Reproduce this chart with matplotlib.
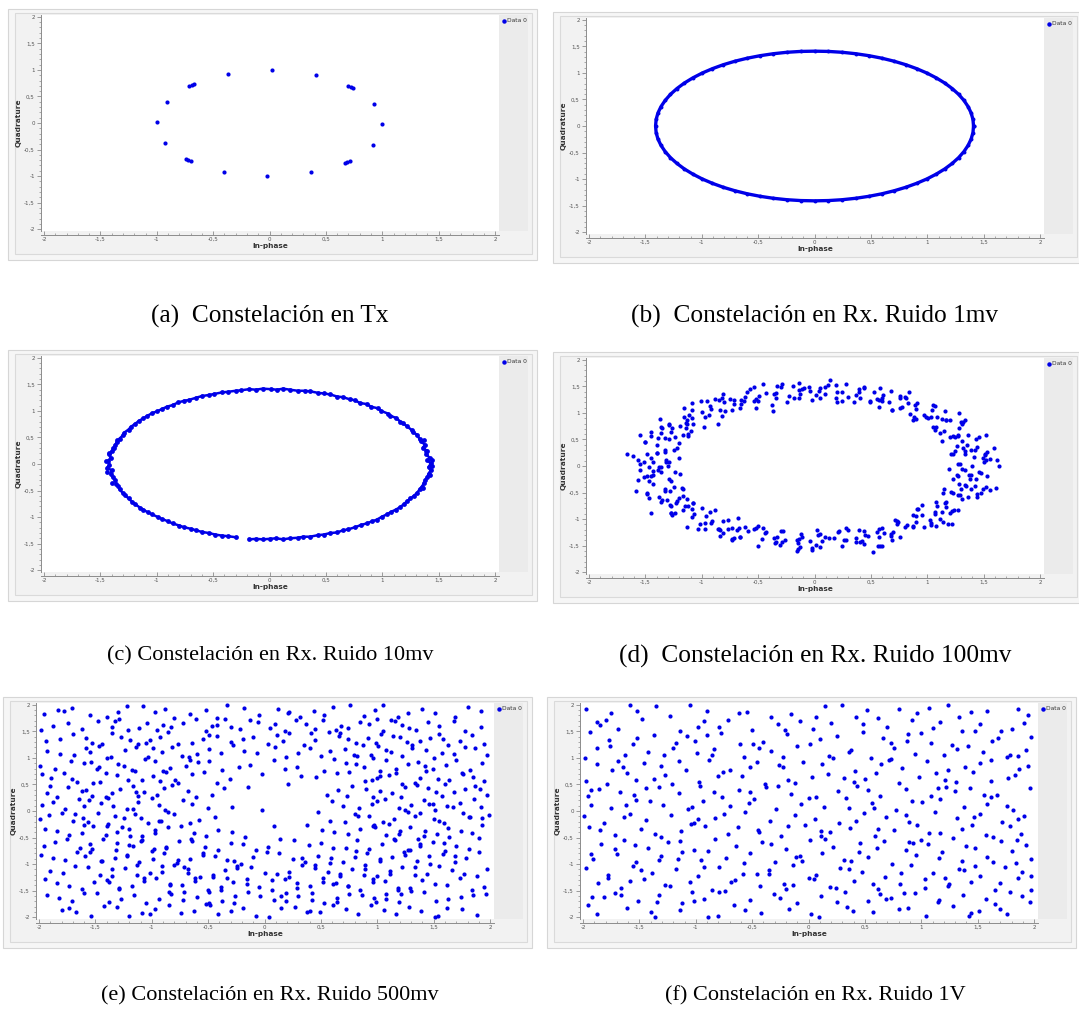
import matplotlib
matplotlib.use("Agg")
import matplotlib.pyplot as plt
from matplotlib.patches import Rectangle
from matplotlib.lines import Line2D
from matplotlib.ticker import MultipleLocator, FuncFormatter

# ---- data ----
a_x = [-0.37, 0.02, 0.41, 0.70, 0.72, 0.74, 0.93, 1.00, 0.92, 0.71, 0.69, 0.67,
       0.37, -0.02, -0.40, -0.74, -0.72, -0.70, -0.93, -1.00, -0.91, -0.71, -0.69, -0.67]
a_y = [0.92, 1.00, 0.91, 0.70, 0.68, 0.66, 0.36, -0.02, -0.41, -0.72, -0.74, -0.75,
       -0.93, -1.00, -0.92, -0.67, -0.70, -0.71, -0.38, 0.01, 0.40, 0.70, 0.71, 0.73]

b_x = [1.410, 1.405, 1.389, 1.362, 1.325, 1.278, 1.221, 1.155, 1.080, 0.997, 0.906, 0.809, 0.705, 0.596, 0.482, 0.365, 0.245, 0.123,
       0.000, -0.123, -0.245, -0.365, -0.482, -0.596, -0.705, -0.809, -0.906, -0.997, -1.080, -1.155, -1.221, -1.278, -1.325, -1.362, -1.389, -1.405,
       -1.410, -1.405, -1.389, -1.362, -1.325, -1.278, -1.221, -1.155, -1.080, -0.997, -0.906, -0.809, -0.705, -0.596, -0.482, -0.365, -0.245, -0.123,
       0.000, 0.123, 0.245, 0.365, 0.482, 0.596, 0.705, 0.809, 0.906, 0.997, 1.080, 1.155, 1.221, 1.278, 1.325, 1.362, 1.389, 1.405, 1.410]
b_y = [0.000, 0.123, 0.245, 0.365, 0.482, 0.596, 0.705, 0.809, 0.906, 0.997, 1.080, 1.155, 1.221, 1.278, 1.325, 1.362, 1.389, 1.405,
       1.410, 1.405, 1.389, 1.362, 1.325, 1.278, 1.221, 1.155, 1.080, 0.997, 0.906, 0.809, 0.705, 0.596, 0.482, 0.365, 0.245, 0.123,
       0.000, -0.123, -0.245, -0.365, -0.482, -0.596, -0.705, -0.809, -0.906, -0.997, -1.080, -1.155, -1.221, -1.278, -1.325, -1.362, -1.389, -1.405,
       -1.410, -1.405, -1.389, -1.362, -1.325, -1.278, -1.221, -1.155, -1.080, -0.997, -0.906, -0.809, -0.705, -0.596, -0.482, -0.365, -0.245, -0.123, 0.000]

c_x = [1.43, 1.40, 1.42, 1.39, 1.40, 1.36, 1.38, 1.34, 1.33, 1.31, 1.27, 1.26, 1.22, 1.18, 1.16, 1.12, 1.07, 1.05,
       0.99, 0.96, 0.90, 0.86, 0.80, 0.76, 0.71, 0.65, 0.60, 0.54, 0.48, 0.43, 0.36, 0.31, 0.25, 0.18, 0.12, 0.07,
       0.01, -0.06, -0.12, -0.18, -0.25, -0.30, -0.37, -0.42, -0.49, -0.54, -0.60, -0.65, -0.71, -0.76, -0.81, -0.86, -0.91, -0.95,
       -1.00, -1.04, -1.09, -1.12, -1.16, -1.19, -1.23, -1.25, -1.29, -1.30, -1.33, -1.35, -1.37, -1.38, -1.40, -1.42, -1.41, -1.43,
       -1.42, -1.44, -1.40, -1.41, -1.39, -1.37, -1.36, -1.34, -1.33, -1.30, -1.28, -1.25, -1.22, -1.19, -1.15, -1.12, -1.08, -1.04,
       -0.99, -0.95, -0.90, -0.86, -0.80, -0.76, -0.70, -0.65, -0.60, -0.54, -0.48, -0.42, -0.37, -0.30, -0.18, -0.12, -0.06,
       0.00, 0.06, 0.12, 0.18, 0.25, 0.30, 0.36, 0.43, 0.48, 0.54, 0.60, 0.65, 0.70, 0.76, 0.81, 0.86, 0.91, 0.95,
       1.00, 1.04, 1.08, 1.12, 1.16, 1.19, 1.22, 1.25, 1.28, 1.31, 1.33, 1.35, 1.37, 1.38, 1.40, 1.41, 1.43, 1.41,
       -1.45, -1.44, -1.39, -1.42, 1.44, 1.42, 1.39, 1.44, -1.40, 1.37, -1.35, 1.36]
c_y = [0.01, 0.07, 0.11, 0.19, 0.24, 0.31, 0.36, 0.43, 0.47, 0.55, 0.60, 0.64, 0.71, 0.77, 0.80, 0.87, 0.91, 0.95,
       1.00, 1.05, 1.08, 1.13, 1.15, 1.20, 1.22, 1.26, 1.27, 1.31, 1.33, 1.34, 1.37, 1.38, 1.38, 1.40, 1.42, 1.40,
       1.41, 1.42, 1.40, 1.41, 1.39, 1.38, 1.36, 1.35, 1.32, 1.30, 1.28, 1.25, 1.21, 1.19, 1.16, 1.11, 1.08, 1.04,
       0.99, 0.96, 0.90, 0.86, 0.81, 0.76, 0.70, 0.65, 0.59, 0.54, 0.48, 0.42, 0.36, 0.30, 0.24, 0.18, 0.12, 0.06,
       -0.01, -0.07, -0.12, -0.18, -0.25, -0.30, -0.37, -0.42, -0.48, -0.55, -0.59, -0.65, -0.71, -0.76, -0.82, -0.86, -0.91, -0.95,
       -1.00, -1.04, -1.08, -1.12, -1.16, -1.19, -1.22, -1.25, -1.28, -1.30, -1.33, -1.35, -1.36, -1.38, -1.42, -1.41, -1.42,
       -1.41, -1.40, -1.42, -1.40, -1.39, -1.37, -1.37, -1.34, -1.33, -1.30, -1.29, -1.25, -1.23, -1.19, -1.15, -1.12, -1.08, -1.05,
       -0.99, -0.95, -0.90, -0.86, -0.81, -0.76, -0.70, -0.65, -0.60, -0.54, -0.48, -0.43, -0.36, -0.30, -0.25, -0.18, -0.12, -0.06,
       0.05, -0.15, 0.30, 0.20, 0.08, -0.20, 0.25, -0.03, -0.35, 0.45, 0.45, -0.45]
c_gap = 104  # index where the small gap in the bottom of the ring starts
c_ring_end = 143  # the ordered ring points; the rest are scattered extras

d_x = [1.46, 1.27, 1.50, 1.39, 1.56, 1.33, 1.41, 1.29, 1.51, 1.35, 1.59, 1.21, 1.39, 1.27, 1.43, 1.23,
       1.42, 1.31, 1.46, 1.26, 1.28, 1.07, 1.36, 1.25, 1.27, 1.08, 1.31, 1.20, 1.32, 1.09, 1.17, 1.05,
       1.20, 1.04, 1.28, 0.90, 1.03, 0.91, 1.07, 0.87, 1.01, 0.90, 1.05, 0.85, 0.81, 0.60, 0.89, 0.78,
       0.76, 0.57, 0.80, 0.69, 0.76, 0.53, 0.61, 0.49, 0.60, 0.44, 0.68, 0.30, 0.40, 0.28, 0.44, 0.24,
       0.35, 0.24, 0.39, 0.19, 0.12, -0.09, 0.20, 0.09,
       0.05, -0.14, 0.09, -0.02, 0.04, -0.19, -0.11, -0.23, -0.13, -0.29, -0.05, -0.43, -0.34, -0.46, -0.30, -0.50,
       -0.38, -0.49, -0.34, -0.54, -0.60, -0.81, -0.52, -0.63, -0.66, -0.85, -0.62, -0.73, -0.65, -0.88, -0.80, -0.92,
       -0.79, -0.95, -0.71, -1.09, -0.97, -1.09, -0.93, -1.13, -0.98, -1.09, -0.94, -1.14, -1.16, -1.37, -1.08, -1.19,
       -1.17, -1.36, -1.13, -1.24, -1.12, -1.35, -1.27, -1.39, -1.20, -1.36, -1.12, -1.50, -1.33, -1.45, -1.29, -1.49,
       -1.29, -1.40, -1.25, -1.45, -1.40, -1.61, -1.32, -1.43,
       -1.36, -1.55, -1.32, -1.43, -1.24, -1.47, -1.39, -1.51, -1.27, -1.43, -1.19, -1.57, -1.33, -1.45, -1.29, -1.49,
       -1.22, -1.33, -1.18, -1.38, -1.28, -1.49, -1.20, -1.31, -1.17, -1.36, -1.13, -1.24, -1.00, -1.23, -1.15, -1.27,
       -0.96, -1.12, -0.88, -1.26, -0.97, -1.09, -0.93, -1.13, -0.81, -0.92, -0.77, -0.97, -0.81, -1.02, -0.73, -0.84,
       -0.66, -0.85, -0.62, -0.73, -0.44, -0.67, -0.59, -0.71, -0.36, -0.52, -0.28, -0.66, -0.34, -0.46, -0.30, -0.50,
       -0.15, -0.26, -0.11, -0.31, -0.12, -0.33, -0.04, -0.15,
       0.05, -0.14, 0.09, -0.02, 0.28, 0.05, 0.13, 0.01, 0.37, 0.21, 0.45, 0.07, 0.40, 0.28, 0.44, 0.24,
       0.58, 0.47, 0.62, 0.42, 0.60, 0.39, 0.68, 0.57, 0.76, 0.57, 0.80, 0.69, 0.97, 0.74, 0.82, 0.70,
       1.03, 0.87, 1.11, 0.73, 1.03, 0.91, 1.07, 0.87, 1.18, 1.07, 1.22, 1.02, 1.16, 0.95, 1.24, 1.13,
       1.27, 1.08, 1.31, 1.20, 1.44, 1.21, 1.29, 1.17, 1.44, 1.28, 1.52, 1.14, 1.39, 1.27, 1.43, 1.23,
       1.49, 1.38, 1.53, 1.33, 1.40, 1.19, 1.48, 1.37,
       -1.66, 1.64, 1.61, -1.45, -0.37, 0.52, 1.62, -1.58, 1.52, -1.55]
d_y = [-0.12, 0.03, 0.08, -0.17, 0.13, 0.23, 0.17, 0.04, 0.21, 0.40, 0.34, 0.23, 0.30, 0.56, 0.50, 0.23,
       0.30, 0.48, 0.54, 0.38, 0.72, 0.67, 0.59, 0.55, 0.59, 0.74, 0.79, 0.54, 0.82, 0.92, 0.86, 0.73,
       0.87, 1.06, 1.00, 0.89, 0.93, 1.19, 1.13, 0.86, 0.90, 1.08, 1.14, 0.98, 1.28, 1.23, 1.15, 1.11,
       1.10, 1.25, 1.30, 1.05, 1.29, 1.39, 1.33, 1.20, 1.28, 1.47, 1.41, 1.30, 1.29, 1.55, 1.49, 1.22,
       1.21, 1.39, 1.45, 1.29, 1.52, 1.47, 1.39, 1.35,
       1.29, 1.44, 1.49, 1.24, 1.41, 1.51, 1.45, 1.32, 1.35, 1.54, 1.48, 1.37, 1.29, 1.55, 1.49, 1.22,
       1.14, 1.32, 1.38, 1.22, 1.40, 1.35, 1.27, 1.23, 1.10, 1.25, 1.30, 1.05, 1.17, 1.27, 1.21, 1.08,
       1.04, 1.23, 1.17, 1.06, 0.93, 1.19, 1.13, 0.86, 0.73, 0.91, 0.97, 0.81, 0.93, 0.88, 0.80, 0.76,
       0.59, 0.74, 0.79, 0.54, 0.61, 0.71, 0.65, 0.52, 0.44, 0.63, 0.57, 0.46, 0.30, 0.56, 0.50, 0.23,
       0.07, 0.25, 0.31, 0.15, 0.24, 0.19, 0.11, 0.07,
       -0.12, 0.03, 0.08, -0.17, -0.11, -0.01, -0.07, -0.20, -0.29, -0.10, -0.16, -0.27, -0.44, -0.18, -0.24, -0.51,
       -0.66, -0.48, -0.42, -0.58, -0.48, -0.53, -0.61, -0.65, -0.83, -0.68, -0.63, -0.88, -0.80, -0.70, -0.76, -0.89,
       -0.95, -0.76, -0.82, -0.93, -1.07, -0.81, -0.87, -1.14, -1.26, -1.08, -1.02, -1.18, -1.04, -1.09, -1.17, -1.21,
       -1.34, -1.19, -1.14, -1.39, -1.27, -1.17, -1.23, -1.36, -1.36, -1.17, -1.23, -1.34, -1.43, -1.17, -1.23, -1.50,
       -1.57, -1.39, -1.33, -1.49, -1.28, -1.33, -1.41, -1.45,
       -1.53, -1.38, -1.33, -1.58, -1.39, -1.29, -1.35, -1.48, -1.43, -1.24, -1.30, -1.41, -1.43, -1.17, -1.23, -1.50,
       -1.50, -1.32, -1.26, -1.42, -1.16, -1.21, -1.29, -1.33, -1.34, -1.19, -1.14, -1.39, -1.15, -1.05, -1.11, -1.24,
       -1.12, -0.93, -0.99, -1.10, -1.07, -0.81, -0.87, -1.14, -1.09, -0.91, -0.85, -1.01, -0.69, -0.74, -0.82, -0.86,
       -0.83, -0.68, -0.63, -0.88, -0.59, -0.49, -0.55, -0.68, -0.52, -0.33, -0.39, -0.50, -0.44, -0.18, -0.24, -0.51,
       -0.43, -0.25, -0.19, -0.35, 0.00, -0.05, -0.13, -0.17,
       0.22, 0.00, -0.42, -0.88, 1.04, -1.62, 0.11, -0.48, 0.58, 0.58]
d_x2 = [1.52, 1.33, 1.25, 1.44, 1.51, 1.33, 1.53, 1.23, 1.32, 1.13, 1.33, 1.15, 1.30, 1.11, 0.97, 1.16, 1.17, 0.99,
        1.13, 0.83, 0.88, 0.69, 0.84, 0.66, 0.76, 0.57, 0.39, 0.58, 0.55, 0.37, 0.49, 0.19, 0.20, 0.01, 0.14, -0.04,
        0.05, -0.14, -0.33, -0.14, -0.18, -0.36, -0.24, -0.54, -0.52, -0.71, -0.57, -0.75, -0.65, -0.84, -1.01, -0.82, -0.82, -1.00,
        -0.86, -1.16, -1.10, -1.29, -1.11, -1.29, -1.14, -1.33, -1.45, -1.26, -1.22, -1.40, -1.20, -1.50, -1.38, -1.57, -1.33, -1.51,
        -1.30, -1.49, -1.55, -1.36, -1.25, -1.43, -1.17, -1.47, -1.28, -1.47, -1.17, -1.35, -1.08, -1.27, -1.27, -1.08, -0.91, -1.09,
        -0.77, -1.07, -0.84, -1.03, -0.68, -0.86, -0.54, -0.73, -0.69, -0.50, -0.29, -0.47, -0.13, -0.43, -0.16, -0.35, 0.02, -0.16,
        0.17, -0.02, 0.03, 0.22, 0.44, 0.26, 0.60, 0.30, 0.56, 0.37, 0.73, 0.55, 0.87, 0.68, 0.71, 0.90, 1.08, 0.90,
        1.22, 0.92, 1.14, 0.95, 1.27, 1.09, 1.36, 1.17, 1.15, 1.34, 1.48, 1.30, 1.56, 1.26, 1.42, 1.23, 1.49, 1.31]
d_y2 = [0.12, -0.07, 0.28, 0.35, 0.22, 0.29, 0.27, 0.56, 0.34, 0.48, 0.86, 0.66, 0.82, 0.63, 0.96, 1.03, 0.86, 0.93,
        0.89, 1.18, 0.92, 1.06, 1.40, 1.20, 1.31, 1.12, 1.40, 1.47, 1.26, 1.33, 1.23, 1.52, 1.20, 1.34, 1.62, 1.42,
        1.47, 1.28, 1.50, 1.57, 1.29, 1.36, 1.20, 1.49, 1.10, 1.24, 1.46, 1.26, 1.25, 1.06, 1.22, 1.29, 0.95, 1.02,
        0.80, 1.09, 0.66, 0.80, 0.97, 0.77, 0.71, 0.52, 0.64, 0.71, 0.33, 0.40, 0.16, 0.45, -0.02, 0.12, 0.27, 0.07,
        0.00, -0.19, -0.08, -0.01, -0.40, -0.33, -0.57, -0.28, -0.74, -0.60, -0.44, -0.64, -0.70, -0.89, -0.76, -0.69, -1.04, -0.97,
        -1.19, -0.90, -1.32, -1.18, -0.98, -1.18, -1.19, -1.38, -1.20, -1.13, -1.44, -1.37, -1.53, -1.24, -1.60, -1.46, -1.20, -1.40,
        -1.35, -1.54, -1.30, -1.23, -1.47, -1.40, -1.50, -1.21, -1.50, -1.36, -1.04, -1.24, -1.13, -1.32, -1.02, -0.95, -1.13, -1.06,
        -1.10, -0.81, -1.06, -0.92, -0.55, -0.75, -0.59, -0.78, -0.44, -0.37, -0.51, -0.44, -0.46, -0.17, -0.38, -0.24, 0.15, -0.05]

e_x = [-1.96, -1.71, -1.40, -1.22, -0.97, -0.80, -0.52, -0.33, -0.05, 0.12, 0.31, 0.44, 0.61, 0.88, 1.05, 1.27, 1.40, 1.69, 1.92,
       -1.88, -1.62, -1.48, -1.21, -1.04, -0.83, -0.61, -0.47, -0.22, -0.06, 0.18, 0.37, 0.52, 0.74, 0.93, 1.16, 1.34, 1.55, 1.78,
       -1.35, -0.95, -0.72, -0.35, 0.05, 0.28, 0.63, 0.85, 1.22, 1.05,
       -1.94, -1.70, -1.44, -1.27, -1.02, -0.86, -0.64, -0.42, -0.19, 0.03, 0.22, 0.45, 0.66, 0.81, 1.03, 1.26, 1.47, 1.63, 1.84,
       -1.12, -0.93, -0.55, -0.30, 0.11, 0.35, 0.57, 0.92, 1.14, 1.38, -1.58,
       -1.81, -1.58, -1.36, -1.14, -0.91, -0.73, -0.49, -0.28, -0.07, 0.19, 0.40, 0.58, 0.79, 1.01, 1.22, 1.43, 1.57, 1.78, 1.97,
       -1.24, -1.03, -0.82, -0.60, 0.71, 0.94, 1.12, 1.31, -0.18, 0.30,
       -1.99, -1.72, -1.49, -1.30, -1.06, -0.84, -0.59, -0.38, -0.13, 0.08, 0.29, 0.53, 0.72, 0.96, 1.17, 1.36, 1.61, 1.82,
       -1.60, -1.18, -0.97, -0.70, 0.88, 1.08, 1.27, 1.49, -1.40,
       -1.89, -1.66, -1.41, -1.21, -0.99, -0.77, -0.54, -0.31, -0.02, 0.21, 0.46, 0.64, 0.89, 1.10, 1.33, 1.54, 1.76, 1.95,
       -1.52, -1.31, -1.09, -0.87, 1.00, 1.22, 1.43, 1.64, -1.78,
       -1.93, -1.74, -1.53, -1.28, -1.07, -0.82, -0.61, -0.36, 0.55, 0.78, 1.02, 1.21, 1.45, 1.68, 1.87,
       -1.62, -1.41, -1.17, -0.95, 0.90, 1.13, 1.35, 1.57, -0.15,
       -1.97, -1.77, -1.56, -1.34, -1.12, -0.88, -0.64, -0.29, 0.60, 0.84, 1.07, 1.30, 1.51, 1.73, 1.92,
       -1.65, -1.45, -1.22, -1.00, 0.95, 1.19, 1.41, 1.62, -0.02,
       -1.91, -1.70, -1.48, -1.25, -1.03, -0.80, -0.58, -0.44, 0.47, 0.71, 0.93, 1.15, 1.38, 1.59, 1.81, 1.99,
       -1.61, -1.39, -1.15, -0.92, 0.83, 1.05, 1.27, 1.50, 0.08,
       -1.95, -1.73, -1.52, -1.31, -1.09, -0.86, -0.63, -0.41, -0.17, 0.38, 0.62, 0.85, 1.08, 1.29, 1.53, 1.74, 1.93,
       -1.62, -1.40, -1.19, -0.97, 0.98, 1.19, 1.42, 1.64,
       -1.86, -1.64, -1.43, -1.20, -0.98, -0.76, -0.53, -0.30, -0.08, 0.14, 0.39, 0.61, 0.82, 1.04, 1.27, 1.49, 1.70, 1.90,
       -1.55, -1.32, -1.10, -0.87, 0.93, 1.16, 1.38, 1.60, -0.65,
       -1.98, -1.77, -1.55, -1.33, -1.11, -0.89, -0.66, -0.44, -0.21, 0.02, 0.25, 0.47, 0.70, 0.91, 1.13, 1.35, 1.58, 1.79,
       -1.45, -1.22, -1.00, -0.77, -0.55, 0.58, 0.80, 1.02, 1.24, 1.46,
       -1.90, -1.68, -1.46, -1.24, -1.02, -0.80, -0.57, -0.35, -0.12, 0.11, 0.33, 0.56, 0.78, 1.00, 1.22, 1.44, 1.66, 1.88,
       -1.35, -1.13, -0.91, -0.68, -0.46, -0.24, 0.22, 0.45, 0.67, 0.89, 1.11, 1.33,
       -1.84, -1.62, -1.40, -1.18, -0.96, -0.73, -0.50, -0.28, -0.05, 0.18, 0.40, 0.63, 0.85, 1.07, 1.29, 1.51, 1.73, 1.95,
       -1.29, -1.07, -0.84, -0.62, -0.39, -0.16, 0.07, 0.29, 0.52, 0.74, 0.96, 1.18,
       -1.93, -1.71, -1.49, -1.27, -1.05, -0.83, -0.60, -0.38, -0.15, 0.08, 0.30, 0.53, 0.75, 0.97, 1.19, 1.41, 1.63, 1.85,
       -0.94, -0.71, -0.49, -0.26, 0.19, 0.42, 0.64, 1.08,
       -1.80, -1.54, -1.31, -1.09, -0.85, -0.63, -0.41, -0.19, 0.04, 0.27, 0.49, 0.72, 0.94, 1.17, 1.39, 1.62, 1.88,
       -1.78, -1.33, -0.88, -0.42, 0.21, 0.67, 1.12, 1.58, -1.55, -1.05, -0.66, 0.82, 1.31, 1.75,
       -1.90, -1.47, -1.14, -0.79, 0.73, 1.02, 1.49, 1.91, -1.68, -1.26, -0.94, 0.97, 1.36, 1.82,
       -1.59, -1.17, -0.71, -0.27, 0.33, 0.88, 1.29, 1.69, -1.38, -0.85, -0.33, 0.15, 0.61, 1.21,
       -1.73, -1.02, -0.48, 0.40, 0.99, 1.54]
e_y = [1.83, 1.95, 1.78, 1.97, 1.86, 1.76, 1.90, 1.99, 1.81, 1.93, 1.77, 1.88, 1.96, 1.79, 2.00, 1.84, 1.92, 1.77, 1.89,
       1.61, 1.55, 1.70, 1.52, 1.66, 1.58, 1.73, 1.60, 1.54, 1.68, 1.51, 1.64, 1.72, 1.57, 1.63, 1.69, 1.53, 1.60, 1.50,
       1.58, 1.52, 1.66, 1.74, 1.56, 1.71, 1.53, 1.67, 1.62, 1.50,
       1.31, 1.45, 1.27, 1.40, 1.34, 1.48, 1.29, 1.42, 1.36, 1.26, 1.47, 1.33, 1.41, 1.28, 1.46, 1.30, 1.38, 1.25, 1.43,
       1.27, 1.39, 1.36, 1.30, 1.44, 1.25, 1.49, 1.37, 1.42, 1.32, 1.38,
       1.07, 1.18, 1.02, 1.21, 1.11, 1.04, 1.16, 1.24, 1.09, 1.01, 1.19, 1.13, 1.06, 1.22, 1.03, 1.15, 1.10, 1.20, 1.05,
       1.15, 1.01, 1.20, 1.08, 1.17, 1.05, 1.12, 1.24, 1.13, 1.09,
       0.84, 0.95, 0.79, 0.88, 0.98, 0.81, 0.92, 0.77, 0.86, 0.97, 0.83, 0.76, 0.90, 0.99, 0.80, 0.93, 0.87, 0.78,
       0.91, 0.77, 0.94, 0.85, 0.82, 0.96, 0.89, 0.80, 0.99,
       0.63, 0.55, 0.71, 0.58, 0.66, 0.52, 0.74, 0.60, 0.69, 0.51, 0.64, 0.72, 0.57, 0.68, 0.53, 0.61, 0.70, 0.56,
       0.52, 0.67, 0.59, 0.73, 0.62, 0.50, 0.75, 0.58, 0.72,
       0.33, 0.46, 0.29, 0.41, 0.36, 0.49, 0.27, 0.44, 0.30, 0.47, 0.38, 0.26, 0.43, 0.35, 0.48,
       0.38, 0.26, 0.47, 0.31, 0.42, 0.34, 0.49, 0.28, 0.45,
       0.12, 0.04, 0.21, 0.09, 0.17, 0.02, 0.14, 0.07, 0.19, 0.05, 0.23, 0.11, 0.01, 0.16, 0.08,
       0.22, 0.15, 0.03, 0.24, 0.13, 0.06, 0.20, 0.10, 0.02,
       -0.08, -0.19, -0.03, -0.14, -0.22, -0.06, -0.17, -0.11, -0.02, -0.21, -0.09, -0.16, -0.04, -0.23, -0.12, -0.07,
       -0.13, -0.24, -0.05, -0.18, -0.10, -0.20, -0.01, -0.15, -0.29,
       -0.33, -0.45, -0.28, -0.39, -0.48, -0.31, -0.42, -0.36, -0.49, -0.27, -0.40, -0.34, -0.46, -0.30, -0.43, -0.37, -0.26,
       -0.41, -0.29, -0.47, -0.35, -0.30, -0.44, -0.38, -0.49,
       -0.58, -0.69, -0.53, -0.64, -0.72, -0.56, -0.67, -0.61, -0.74, -0.52, -0.65, -0.70, -0.55, -0.62, -0.73, -0.59, -0.66, -0.51,
       -0.62, -0.74, -0.57, -0.68, -0.71, -0.54, -0.63, -0.75, -0.52,
       -0.82, -0.93, -0.78, -0.88, -0.97, -0.80, -0.91, -0.85, -0.99, -0.77, -0.90, -0.84, -0.96, -0.79, -0.87, -0.94, -0.81, -0.89,
       -0.95, -0.84, -0.76, -0.92, -0.83, -0.98, -0.86, -0.91, -0.78, -0.85,
       -1.13, -1.04, -1.21, -1.08, -1.17, -1.02, -1.24, -1.11, -1.06, -1.19, -1.01, -1.15, -1.09, -1.23, -1.05, -1.18, -1.12, -1.22,
       -1.10, -1.20, -1.03, -1.16, -1.24, -1.07, -1.14, -1.02, -1.22, -1.09, -1.18, -1.05,
       -1.36, -1.47, -1.30, -1.42, -1.27, -1.39, -1.49, -1.33, -1.44, -1.28, -1.41, -1.35, -1.48, -1.31, -1.45, -1.38, -1.26, -1.43,
       -1.45, -1.32, -1.40, -1.27, -1.48, -1.37, -1.30, -1.46, -1.34, -1.42, -1.29, -1.49,
       -1.58, -1.69, -1.54, -1.65, -1.73, -1.56, -1.62, -1.70, -1.53, -1.67, -1.60, -1.74, -1.57, -1.64, -1.71, -1.52, -1.66, -1.59,
       -1.66, -1.52, -1.73, -1.61, -1.55, -1.68, -1.63, -1.57,
       -1.86, -1.97, -1.81, -1.92, -1.78, -1.88, -1.95, -1.83, -1.99, -1.80, -1.91, -1.85, -1.77, -1.94, -1.89, -1.82, -1.96,
       1.88, 1.69, 1.93, 1.62, 1.85, 1.47, 1.72, 1.35, 1.12, 1.29, 0.96, 1.03, 1.19, 0.71,
       0.48, 0.83, 0.36, 0.58, 0.29, 0.66, 0.14, 0.41, -0.06, -0.31, -0.18, -0.27, -0.52, -0.12,
       -0.84, -0.66, -1.06, -0.94, -0.88, -1.21, -0.73, -0.97, -1.33, -1.52, -1.27, -1.61, -1.38, -1.56,
       -1.83, -1.95, -1.77, -1.89, -1.72, -1.98]
e_x2 = [-1.83, -1.55, -1.30, -1.08, -0.66, -0.42, -0.18, 0.22, 0.53, 0.76, 0.98, 1.18, 1.51, 1.80,
        -1.98, -1.74, -1.29, -1.11, -0.90, -0.52, -0.30, -0.13, 0.09, 0.45, 0.68, 1.00, 1.28, 1.45, 1.68, 1.92,
        -1.81, -1.53, -1.35, -1.19, -0.77, -0.49, -0.10, 0.16, 0.41, 0.74, 0.99, 1.20, 1.55, 1.73, 1.95,
        -1.93, -1.69, -1.47, -0.99, -0.67, -0.39, 0.09, 0.50, 0.87, 1.08, 1.50, 1.68, 1.87,
        -1.86, -1.54, -1.25, -0.90, -0.49, -0.23, 0.18, 0.62, 0.81, 1.02, 1.42, 1.70, 1.93,
        -1.97, -1.71, -1.46, -1.15, -0.93, -0.64, -0.42, 0.32, 0.75, 0.95, 1.17, 1.38, 1.60, 1.85,
        -1.84, -1.58, -1.35, -1.12, -0.89, -0.68, -0.47, 0.65, 0.96, 1.25, 1.52, 1.78, 1.97,
        -1.88, -1.60, -1.39, -1.17, -0.94, -0.72, -0.50, 0.70, 1.00, 1.25, 1.46, 1.67, 1.86,
        -1.99, -1.80, -1.57, -1.33, -1.10, -0.86, -0.66, 0.58, 0.80, 1.10, 1.33, 1.55, 1.76, 1.93,
        -1.84, -1.60, -1.41, -1.20, -0.97, -0.74, -0.52, -0.29, 0.51, 0.74, 0.96, 1.20, 1.41, 1.63, 1.84,
        -1.96, -1.75, -1.53, -1.31, -1.09, -0.87, -0.64, -0.41, -0.19, 0.03, 0.26, 0.50, 0.72, 1.15, 1.38, 1.59, 1.81,
        -1.88, -1.66, -1.44, -1.22, -0.99, -0.78, -0.55, -0.33, -0.10, 0.13, 0.36, 0.59, 0.81, 1.02, 1.25, 1.47, 1.69, 1.90,
        -1.79, -1.57, -1.35, -1.13, -0.91, -0.68, -0.46, -0.24, 0.00, 0.22, 0.45, 0.67, 0.89, 1.11, 1.33, 1.55, 1.77, 1.97,
        -1.95, -1.73, -1.51, -1.29, -1.07, -0.84, -0.62, -0.39, -0.16, 0.07, 0.29, 0.52, 0.74, 0.96, 1.18, 1.40, 1.62, 1.84,
        -1.82, -1.60, -1.38, -1.16, -0.72, -0.49, -0.27, -0.04, 0.19, 0.42, 0.64, 0.86, 1.08, 1.30, 1.52, 1.74, 1.96,
        -1.67, -1.42, -1.20, -0.97, -0.74, -0.52, -0.30, -0.08, 0.15, 0.38, 0.61, 0.83, 1.06, 1.28, 1.51, 1.75]
e_y2 = [1.91, 1.80, 1.86, 1.98, 1.83, 1.75, 1.94, 1.87, 1.80, 1.99, 1.90, 1.78, 1.85, 1.96,
        1.52, 1.65, 1.73, 1.57, 1.62, 1.51, 1.58, 1.71, 1.64, 1.55, 1.60, 1.74, 1.56, 1.67, 1.70, 1.59,
        1.36, 1.29, 1.47, 1.33, 1.26, 1.44, 1.39, 1.31, 1.47, 1.35, 1.28, 1.40, 1.45, 1.32, 1.27,
        1.13, 1.05, 1.23, 1.18, 1.02, 1.10, 1.20, 1.04, 1.25, 1.14, 1.00, 1.08, 1.19,
        0.80, 0.92, 0.84, 0.76, 0.95, 0.82, 0.79, 0.98, 0.88, 0.75, 0.84, 0.96, 0.90,
        0.70, 0.61, 0.54, 0.75, 0.56, 0.69, 0.52, 0.66, 0.73, 0.58, 0.71, 0.63, 0.51, 0.65,
        0.27, 0.40, 0.34, 0.28, 0.44, 0.37, 0.31, 0.39, 0.27, 0.45, 0.36, 0.42, 0.30,
        0.17, 0.09, 0.24, 0.03, 0.12, 0.20, 0.05, 0.10, 0.18, 0.02, 0.14, 0.07, 0.22,
        -0.16, -0.04, -0.21, -0.10, -0.13, -0.02, -0.22, -0.18, -0.06, -0.24, -0.09, -0.19, -0.03, -0.14,
        -0.38, -0.27, -0.46, -0.33, -0.41, -0.28, -0.47, -0.39, -0.35, -0.44, -0.29, -0.37, -0.48, -0.32, -0.42,
        -0.66, -0.52, -0.71, -0.60, -0.55, -0.69, -0.57, -0.73, -0.63, -0.68, -0.54, -0.61, -0.70, -0.53, -0.66, -0.60, -0.72,
        -0.89, -0.77, -0.95, -0.83, -0.90, -0.98, -0.79, -0.93, -0.86, -0.80, -0.97, -0.88, -0.76, -0.94, -0.82, -0.99, -0.85, -0.78,
        -1.17, -1.06, -1.23, -1.01, -1.14, -1.09, -1.20, -1.03, -1.16, -1.24, -1.08, -1.19, -1.02, -1.13, -1.21, -1.04, -1.18, -1.10,
        -1.28, -1.41, -1.33, -1.47, -1.26, -1.38, -1.31, -1.44, -1.29, -1.49, -1.35, -1.27, -1.42, -1.33, -1.46, -1.30, -1.39, -1.48,
        -1.63, -1.55, -1.71, -1.59, -1.67, -1.52, -1.74, -1.61, -1.69, -1.54, -1.72, -1.58, -1.65, -1.51, -1.70, -1.62, -1.56,
        -1.91, -1.79, -1.98, -1.85, -1.93, -1.76, -1.88, -1.97, -1.82, -1.90, -1.78, -1.95, -1.87, -1.80, -1.99, -1.84]

f_x = [-1.97, -1.75, -1.58, -1.23, -1.05, -0.90, -0.55, -0.33, -0.16, 0.15, 0.30, 0.62, 0.96, 1.07, 1.24, 1.58, 1.86, 1.95,
       -1.88, -1.69, -1.48, -1.14, -0.93, -0.79, -0.50, -0.27, -0.08, 0.20, 0.42, 0.70, 0.92, 1.10, 1.36, 1.52, 1.71, 1.91,
       -1.94, -1.77, -1.56, -1.37, -1.18, -1.01, -0.78, -0.61, -0.40, -0.19, 0.01, 0.25, 0.48, 0.66, 0.88, 1.09, 1.27, 1.48, 1.68, 1.97,
       -1.98, -1.76, -1.63, -1.42, -1.20, -0.99, -0.84, -0.57, -0.33, -0.10, 0.18, 0.38, 0.55, 0.76, 0.94, 1.20, 1.41, 1.55, 1.76, 1.93,
       -1.88, -1.65, -1.46, -1.31, -1.09, -0.88, -0.70, -0.46, -0.26, -0.05, 0.22, 0.41, 0.64, 0.83, 1.05, 1.24, 1.39, 1.62, 1.87,
       -1.97, -1.79, -1.61, -1.37, -1.21, -0.97, -0.76, -0.59, -0.39, -0.18, 0.03, 0.17, 0.40, 0.60, 0.80, 0.98, 1.21, 1.46, 1.62, 1.83,
       -1.86, -1.67, -1.55, -1.33, -1.15, -0.96, -0.77, -0.62, -0.38, -0.16, 0.07, 0.26, 0.43, 0.63, 0.86, 1.09, 1.30, 1.43, 1.67, 1.96,
       -1.93, -1.75, -1.53, -1.29, -1.07, -0.94, -0.70, -0.48, -0.29, -0.07, 0.14, 0.33, 0.56, 0.78, 1.01, 1.17, 1.38, 1.58, 1.81,
       -1.99, -1.81, -1.58, -1.44, -1.22, -1.04, -0.83, -0.56, -0.34, -0.12, 0.06, 0.27, 0.49, 0.69, 0.89, 1.12, 1.32, 1.52, 1.72, 1.91,
       -1.95, -1.72, -1.49, -1.31, -1.13, -0.92, -0.71, -0.45, -0.24, -0.03, 0.19, 0.37, 0.59, 0.76, 0.96, 1.17, 1.36, 1.57, 1.79,
       -1.84, -1.64, -1.42, -1.25, -1.02, -0.83, -0.64, -0.41, -0.20, 0.01, 0.22, 0.46, 0.67, 0.86, 1.06, 1.28, 1.48, 1.71, 1.93,
       -1.91, -1.70, -1.53, -1.31, -1.12, -0.95, -0.73, -0.52, -0.30, -0.08, 0.12, 0.31, 0.53, 0.74, 0.95, 1.18, 1.36, 1.58, 1.80, 1.97,
       -1.97, -1.78, -1.56, -1.39, -1.18, -0.98, -0.79, -0.58, -0.35, -0.14, 0.07, 0.28, 0.47, 0.68, 0.91, 1.10, 1.33, 1.52, 1.74, 1.89,
       -1.87, -1.66, -1.46, -1.27, -1.05, -0.86, -0.65, -0.43, -0.22, 0.00, 0.19, 0.40, 0.62, 0.81, 1.03, 1.24, 1.44, 1.65, 1.86,
       -1.92, -1.72, -1.51, -1.33, -1.12, -0.93, -0.74, -0.52, -0.31, -0.10, 0.11, 0.32, 0.53, 0.73, 0.94, 1.15, 1.37, 1.57, 1.79, 1.96,
       -1.88, -1.61, -1.36, -1.14, -0.89, -0.66, -0.42, -0.17, 0.09, 0.34, 0.57, 0.80, 1.04, 1.28, 1.51, 1.76,
       -1.85, -1.52, -1.08, -0.71, -0.44, 0.04, 0.52, 0.87, 1.33, 1.79, -1.69, -1.27, -0.86, -0.23, 0.31, 0.73, 1.15, 1.62,
       -1.93, -1.41, -0.98, -0.52, 0.11, 0.58, 1.00, 1.47, 1.88, -1.72, -1.16, -0.63, -0.06, 0.45, 0.93, 1.38, 1.84,
       -1.58, -1.03, -0.35, 0.24, 0.69, 1.25, 1.70, -1.81, -1.34, -0.80, -0.14, 0.39, 0.85, 1.44, 1.97]
f_y = [1.93, 1.84, 2.00, 1.79, 2.00, 1.89, 1.86, 1.78, 1.82, 1.97, 1.99, 1.76, 1.85, 1.95, 2.00, 1.88, 1.93, 1.80,
       1.67, 1.55, 1.74, 1.50, 1.70, 1.58, 1.53, 1.63, 1.69, 1.65, 1.77, 1.59, 1.72, 1.56, 1.51, 1.64, 1.50, 1.66,
       1.49, 1.33, 1.26, 1.44, 1.29, 1.31, 1.47, 1.26, 1.30, 1.45, 1.27, 1.41, 1.49, 1.37, 1.45, 1.29, 1.25, 1.50, 1.38, 1.40,
       1.00, 1.22, 1.05, 1.11, 1.19, 1.10, 1.16, 1.02, 1.13, 1.23, 1.03, 1.15, 1.00, 1.18, 1.07, 1.05, 1.22, 1.12, 1.02, 1.14,
       0.88, 0.83, 0.91, 0.85, 0.78, 0.97, 0.77, 0.92, 0.86, 0.93, 0.99, 0.76, 0.89, 0.81, 0.95, 0.77, 0.83, 0.96, 0.80,
       0.57, 0.50, 0.72, 0.60, 0.51, 0.54, 0.73, 0.66, 0.51, 0.58, 0.65, 0.70, 0.55, 0.71, 0.52, 0.64, 0.59, 0.74, 0.56, 0.68,
       0.41, 0.36, 0.30, 0.45, 0.33, 0.48, 0.26, 0.40, 0.46, 0.32, 0.27, 0.38, 0.47, 0.29, 0.42, 0.28, 0.37, 0.43, 0.31, 0.44,
       0.11, 0.05, 0.20, 0.12, 0.04, 0.18, 0.09, 0.22, 0.03, 0.14, 0.08, 0.24, 0.15, 0.01, 0.17, 0.23, 0.07, 0.13, 0.02,
       -0.10, -0.22, -0.05, -0.17, -0.08, -0.24, -0.13, -0.02, -0.19, -0.07, -0.15, -0.23, -0.04, -0.11, -0.20, -0.01, -0.14, -0.06, -0.21, -0.09,
       -0.30, -0.45, -0.33, -0.49, -0.38, -0.28, -0.43, -0.35, -0.47, -0.27, -0.40, -0.32, -0.48, -0.36, -0.26, -0.42, -0.34, -0.46, -0.29,
       -0.63, -0.55, -0.70, -0.58, -0.73, -0.52, -0.66, -0.59, -0.71, -0.54, -0.68, -0.61, -0.56, -0.74, -0.62, -0.51, -0.69, -0.57, -0.65,
       -0.90, -0.81, -0.97, -0.85, -0.78, -0.93, -0.88, -0.80, -0.96, -0.84, -0.79, -0.92, -0.86, -0.99, -0.82, -0.77, -0.94, -0.87, -0.76, -0.91,
       -1.08, -1.20, -1.03, -1.16, -1.10, -1.23, -1.05, -1.18, -1.12, -1.01, -1.21, -1.07, -1.14, -1.24, -1.02, -1.17, -1.09, -1.22, -1.06, -1.15,
       -1.35, -1.46, -1.28, -1.40, -1.33, -1.49, -1.30, -1.42, -1.37, -1.26, -1.44, -1.31, -1.47, -1.38, -1.29, -1.41, -1.34, -1.48, -1.27,
       -1.62, -1.54, -1.70, -1.58, -1.73, -1.65, -1.51, -1.68, -1.56, -1.74, -1.60, -1.52, -1.69, -1.63, -1.55, -1.71, -1.59, -1.66, -1.53, -1.72,
       -1.95, -1.82, -1.99, -1.87, -2.00, -1.78, -1.93, -1.85, -2.00, -1.80, -1.91, -1.84, -1.97, -1.79, -1.89, -1.94,
       1.62, 1.88, 1.41, 1.71, 1.18, 1.55, 1.90, 1.32, 1.77, 1.06, 0.95, 0.68, 1.05, 0.82, 0.63, 0.98, 0.44, 0.27,
       0.39, 0.18, -0.15, 0.35, -0.38, 0.06, -0.55, -0.12, -0.43, -0.72, -0.90, -0.31, -0.95, -0.78, -0.60, -1.12, -0.98,
       -1.31, -1.52, -1.18, -1.45, -1.66, -1.37, -1.85, -1.62, -1.71, -1.97, -1.40, -1.88, -1.55, -1.92, -1.22]
f_x2 = [-1.80, -1.35, -0.98, -0.62, -0.21, 0.07, 0.48, 0.80, 1.17, 1.44, 1.80,
        -1.88, -1.52, -1.28, -0.90, -0.49, -0.23, 0.10, 0.36, 0.73, 1.00, 1.32, 1.63, 1.86,
        -1.74, -1.53, -1.15, -0.80, -0.52, -0.12, 0.12, 0.50, 0.71, 1.13, 1.31, 1.52, 1.77, 1.95,
        -1.96, -1.62, -1.44, -1.03, -0.84, -0.53, -0.27, 0.00, 0.36, 0.53, 0.92, 1.22, 1.56, 1.76,
        -1.85, -1.64, -1.36, -1.02, -0.75, -0.44, -0.18, 0.11, 0.42, 0.62, 0.86, 1.07, 1.45, 1.64, 1.86,
        -1.93, -1.54, -1.33, -1.14, -0.89, -0.57, -0.33, -0.11, 0.15, 0.38, 0.61, 0.89, 1.16, 1.40, 1.64, 1.85,
        -1.78, -1.49, -1.23, -0.93, -0.69, -0.46, -0.20, 0.05, 0.36, 0.57, 0.82, 1.03, 1.21, 1.48, 1.70, 1.97,
        -1.96, -1.66, -1.40, -1.02, -0.79, -0.56, -0.25, 0.02, 0.25, 0.63, 0.88, 1.16, 1.42, 1.65, 1.89]
f_y2 = [1.71, 1.97, 1.59, 1.84, 1.52, 1.78, 1.63, 1.93, 1.68, 1.87, 1.55,
        1.19, 1.37, 1.06, 1.44, 1.27, 1.02, 1.35, 1.12, 1.29, 1.47, 1.16, 1.31, 1.04,
        0.77, 0.58, 0.94, 0.66, 0.83, 0.52, 0.88, 0.61, 0.97, 0.72, 0.55, 0.90, 0.63, 0.84,
        0.29, 0.12, 0.43, 0.07, 0.35, 0.16, 0.48, 0.25, 0.05, 0.39, 0.19, 0.46, 0.31, 0.09,
        -0.36, -0.11, -0.44, -0.23, -0.05, -0.40, -0.29, -0.47, -0.18, -0.33, -0.07, -0.42, -0.26, -0.49, -0.15,
        -0.81, -0.64, -0.92, -0.57, -0.75, -0.98, -0.62, -0.86, -0.53, -0.94, -0.70, -0.59, -0.88, -0.66, -0.97, -0.55,
        -1.27, -1.12, -1.41, -1.05, -1.33, -1.19, -1.47, -1.29, -1.09, -1.38, -1.17, -1.45, -1.26, -1.03, -1.36, -1.48,
        -1.77, -1.58, -1.90, -1.69, -1.53, -1.86, -1.63, -1.95, -1.72, -1.57, -1.83, -1.67, -1.98, -1.76, -1.61]

captions = ["(a)  Constelación en Tx",
            "(b)  Constelación en Rx. Ruido 1mv",
            "(c) Constelación en Rx. Ruido 10mv",
            "(d)  Constelación en Rx. Ruido 100mv",
            "(e) Constelación en Rx. Ruido 500mv",
            "(f) Constelación en Rx. Ruido 1V"]
caption_sizes = [18.3, 18.3, 16, 18.3, 16, 16]
tick_vals = [-2, -1.5, -1, -0.5, 0, 0.5, 1, 1.5, 2]

BLUE = "#0000e8"
W, H = 1079, 1010

fig = plt.figure(figsize=(W / 100, H / 100), dpi=100)
fig.patch.set_facecolor("white")


def frac(left, top, right, bottom):
    return [left / W, 1 - bottom / H, (right - left) / W, (bottom - top) / H]


def box(left, top, right, bottom, z, **kw):
    r = Rectangle((left / W, 1 - bottom / H), (right - left) / W, (bottom - top) / H,
                  transform=fig.transFigure, zorder=z, **kw)
    fig.add_artist(r)


def comma(v, pos):
    if abs(v) < 1e-9:
        return "0"
    return ("%g" % v).replace(".", ",")


def panel(dx, dy, series, size=9):
    # window frames around the plot widget (drawn under the axes)
    box(8 + dx, 9 + dy, 537 + dx, 260 + dy, -5, facecolor="#f6f6f6", edgecolor="#d6d6d6", lw=0.8)
    box(15 + dx, 13 + dy, 532 + dx, 254 + dy, -4, facecolor="#f2f2f2", edgecolor="#dadada", lw=0.8)
    # legend strip
    box(499 + dx, 15 + dy, 528 + dx, 231 + dy, -3, facecolor="#ebebeb", edgecolor="none")
    fig.add_artist(Line2D([(503.5 + dx) / W], [1 - (20.5 + dy) / H], marker="o", ms=2.2,
                          color=BLUE, transform=fig.transFigure))
    fig.text((507 + dx) / W, 1 - (20.5 + dy) / H, "Data 0", fontsize=4.3, color="#333333",
             va="center", ha="left")

    ax = fig.add_axes(frac(41 + dx, 15 + dy, 499 + dx, 231 + dy))
    ax.set_facecolor("white")
    for xs, ys in series:
        ax.scatter(xs, ys, s=size, color=BLUE, linewidths=0)
    ax.set_xlim(-2.027, 2.035)
    ax.set_ylim(-2.035, 2.035)

    for side in ["top", "right"]:
        ax.spines[side].set_visible(False)
    for side in ["left", "bottom"]:
        ax.spines[side].set_color("#8c8c8c")
        ax.spines[side].set_linewidth(0.7)
    ax.spines["bottom"].set_position(("outward", 3))

    ax.set_xticks(tick_vals)
    ax.set_yticks(tick_vals)
    ax.xaxis.set_minor_locator(MultipleLocator(0.1))
    ax.yaxis.set_minor_locator(MultipleLocator(0.1))
    ax.xaxis.set_major_formatter(FuncFormatter(comma))
    ax.yaxis.set_major_formatter(FuncFormatter(comma))
    ax.tick_params(axis="x", which="major", direction="in", length=3, width=0.6,
                   colors="#8c8c8c", labelcolor="#555555", labelsize=4, pad=1.5)
    ax.tick_params(axis="x", which="minor", direction="in", length=1.5, width=0.5, colors="#8c8c8c")
    ax.tick_params(axis="y", which="major", direction="out", length=3, width=0.6,
                   colors="#8c8c8c", labelcolor="#555555", labelsize=4, pad=1.5)
    ax.tick_params(axis="y", which="minor", direction="out", length=1.5, width=0.5, colors="#8c8c8c")

    ax.set_xlabel("In-phase", fontsize=5.3, fontweight="bold", color="#333333", labelpad=0.5)
    ax.set_ylabel("Quadrature", fontsize=5.3, fontweight="bold", color="#333333", labelpad=2)
    return ax


panel(0, 0, [(a_x, a_y)], size=9)

ax_b = panel(545, 3, [(b_x, b_y)], size=8)
ax_b.plot(b_x, b_y, "-", color=BLUE, lw=2.4, solid_capstyle="round")

ax_c = panel(0, 341, [(c_x, c_y)], size=12)
ax_c.plot(c_x[:c_gap], c_y[:c_gap], "-", color=BLUE, lw=1.8)
ax_c.plot(c_x[c_gap:c_ring_end] + c_x[:1], c_y[c_gap:c_ring_end] + c_y[:1], "-", color=BLUE, lw=1.8)

panel(545, 343, [(d_x, d_y), (d_x2, d_y2)], size=9)
panel(-5, 688, [(e_x, e_y), (e_x2, e_y2)], size=9)
panel(539, 688, [(f_x, f_y), (f_x2, f_y2)], size=9)

cap_pos = [(270, 316), (815, 316), (270, 656), (815, 656), (270, 996), (815, 996)]
for text, (cx, cy), fs in zip(captions, cap_pos, caption_sizes):
    fig.text(cx / W, 1 - cy / H, text, ha="center", va="center", fontsize=fs,
             family="Liberation Serif", color="black")

fig.savefig("out.png", dpi=100)
